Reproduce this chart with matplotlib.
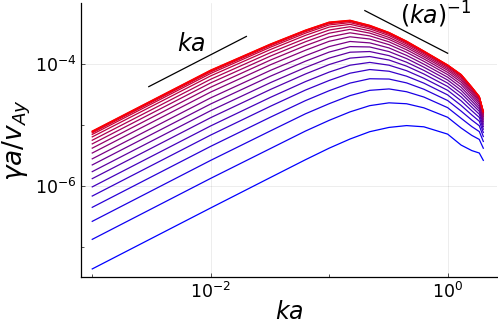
import numpy as np
import matplotlib
matplotlib.use("Agg")
import matplotlib.pyplot as plt
from matplotlib.ticker import FixedLocator, LogFormatterMathtext, NullFormatter

# valores de ka donde lei las curvas
ka = [0.001, 0.01, 0.032, 0.063, 0.1, 0.15, 0.22, 0.32, 0.45, 0.63, 1.0, 1.3, 1.6, 1.85, 2.0]

# log10(gamma a / v_Ay), de la curva mas baja (azul) a la mas alta (roja)
g01 = [-7.36, -6.36, -5.86, -5.57, -5.38, -5.23, -5.11, -5.04, -5.01, -5.03, -5.15, -5.33, -5.42, -5.46, -5.58]
g02 = [-6.875, -5.875, -5.385, -5.10, -4.924, -4.785, -4.683, -4.637, -4.652, -4.719, -4.874, -5.05, -5.171, -5.237, -5.381]
g03 = [-6.58, -5.58, -5.096, -4.817, -4.651, -4.518, -4.432, -4.409, -4.455, -4.542, -4.716, -4.891, -5.027, -5.108, -5.27]
g04 = [-6.35, -5.35, -4.871, -4.601, -4.438, -4.313, -4.242, -4.247, -4.31, -4.414, -4.599, -4.773, -4.92, -5.013, -5.189]
g05 = [-6.165, -5.165, -4.692, -4.428, -4.27, -4.151, -4.091, -4.119, -4.20, -4.314, -4.507, -4.68, -4.836, -4.938, -5.123]
g06 = [-6.015, -5.015, -4.546, -4.289, -4.133, -4.02, -3.974, -4.02, -4.11, -4.234, -4.432, -4.604, -4.767, -4.876, -5.069]
g07 = [-5.88, -4.88, -4.417, -4.164, -4.009, -3.904, -3.878, -3.935, -4.035, -4.164, -4.369, -4.539, -4.708, -4.823, -5.025]
g08 = [-5.765, -4.765, -4.305, -4.058, -3.904, -3.807, -3.796, -3.863, -3.971, -4.105, -4.313, -4.482, -4.656, -4.776, -4.985]
g09 = [-5.655, -4.655, -4.199, -3.955, -3.805, -3.715, -3.721, -3.797, -3.911, -4.052, -4.263, -4.43, -4.609, -4.736, -4.949]
g10 = [-5.555, -4.555, -4.104, -3.864, -3.715, -3.631, -3.654, -3.737, -3.859, -4.003, -4.217, -4.382, -4.566, -4.698, -4.917]
g11 = [-5.46, -4.46, -4.012, -3.775, -3.628, -3.554, -3.591, -3.683, -3.809, -3.957, -4.174, -4.337, -4.526, -4.662, -4.888]
g12 = [-5.38, -4.38, -3.935, -3.70, -3.557, -3.489, -3.539, -3.637, -3.767, -3.917, -4.137, -4.298, -4.491, -4.631, -4.861]
g13 = [-5.31, -4.31, -3.87, -3.636, -3.495, -3.432, -3.494, -3.597, -3.73, -3.884, -4.104, -4.266, -4.462, -4.605, -4.838]
g14 = [-5.25, -4.25, -3.813, -3.582, -3.443, -3.389, -3.457, -3.565, -3.70, -3.856, -4.078, -4.238, -4.438, -4.583, -4.821]
g15 = [-5.195, -4.195, -3.762, -3.531, -3.395, -3.35, -3.424, -3.534, -3.673, -3.831, -4.055, -4.213, -4.415, -4.563, -4.804]
g16 = [-5.155, -4.155, -3.724, -3.495, -3.36, -3.322, -3.399, -3.512, -3.653, -3.812, -4.037, -4.196, -4.398, -4.549, -4.792]
g17 = [-5.13, -4.13, -3.70, -3.471, -3.338, -3.304, -3.385, -3.499, -3.641, -3.80, -4.027, -4.184, -4.388, -4.54, -4.784]
g18 = [-5.115, -4.115, -3.685, -3.457, -3.325, -3.295, -3.377, -3.492, -3.634, -3.795, -4.022, -4.178, -4.384, -4.537, -4.782]
g19 = [-5.105, -4.105, -3.676, -3.449, -3.317, -3.287, -3.37, -3.486, -3.628, -3.79, -4.017, -4.174, -4.381, -4.535, -4.781]
g20 = [-5.10, -4.10, -3.672, -3.445, -3.313, -3.283, -3.366, -3.483, -3.626, -3.788, -4.016, -4.173, -4.38, -4.534, -4.781]
curvas = [g01, g02, g03, g04, g05, g06, g07, g08, g09, g10,
          g11, g12, g13, g14, g15, g16, g17, g18, g19, g20]

# rectas de referencia
ref_ka_x = [0.003, 0.02]
ref_ka_y = [4.25e-5, 2.83e-4]
ref_inv_x = [0.2, 1.0]
ref_inv_y = [7.5e-4, 1.5e-4]

fig = plt.figure(figsize=(4.98, 3.32), dpi=100)
ax = fig.add_axes([0.1627, 0.1657, 0.8353, 0.8253])

n = len(curvas)
for i, g in enumerate(curvas):
    f = i / (n - 1)
    ax.plot(ka, 10 ** np.array(g), color=(f, 0, 1 - f), lw=0.9)

ax.plot(ref_ka_x, ref_ka_y, color='black', lw=0.9)
ax.plot(ref_inv_x, ref_inv_y, color='black', lw=0.9)
ax.text(0.0068, 2.13e-4, r'$ka$', fontsize=17, ha='center', va='center')
ax.text(0.8, 6.3e-4, r'$(ka)^{-1}$', fontsize=17, ha='center', va='center')

ax.set_xscale('log')
ax.set_yscale('log')
ax.set_xlim(8.04e-4, 2.61)
ax.set_ylim(3.22e-8, 1.0e-3)

ax.xaxis.set_major_locator(FixedLocator([1e-2, 1e0]))
ax.xaxis.set_minor_locator(FixedLocator([1e-3, 1e-1]))
ax.yaxis.set_major_locator(FixedLocator([1e-6, 1e-4]))
ax.yaxis.set_minor_locator(FixedLocator([1e-7, 1e-5]))
ax.xaxis.set_major_formatter(LogFormatterMathtext())
ax.yaxis.set_major_formatter(LogFormatterMathtext())
ax.xaxis.set_minor_formatter(NullFormatter())
ax.yaxis.set_minor_formatter(NullFormatter())
ax.tick_params(which='both', direction='in', labelsize=12.5, width=0.6, color='#333333')
ax.tick_params(which='major', length=3)
ax.tick_params(which='minor', length=2)
ax.grid(True, which='major', color='black', alpha=0.1, lw=0.5)

for lado in ['top', 'right']:
    ax.spines[lado].set_visible(False)
for lado in ['left', 'bottom']:
    ax.spines[lado].set_linewidth(0.9)

ax.set_xlabel(r'$ka$', fontsize=17)
ax.set_ylabel(r'$\gamma a / v_{Ay}$', fontsize=19)
ax.xaxis.set_label_coords(0.5, -0.085)
ax.yaxis.set_label_coords(-0.115, 0.5)

fig.savefig('out.png', dpi=100)
